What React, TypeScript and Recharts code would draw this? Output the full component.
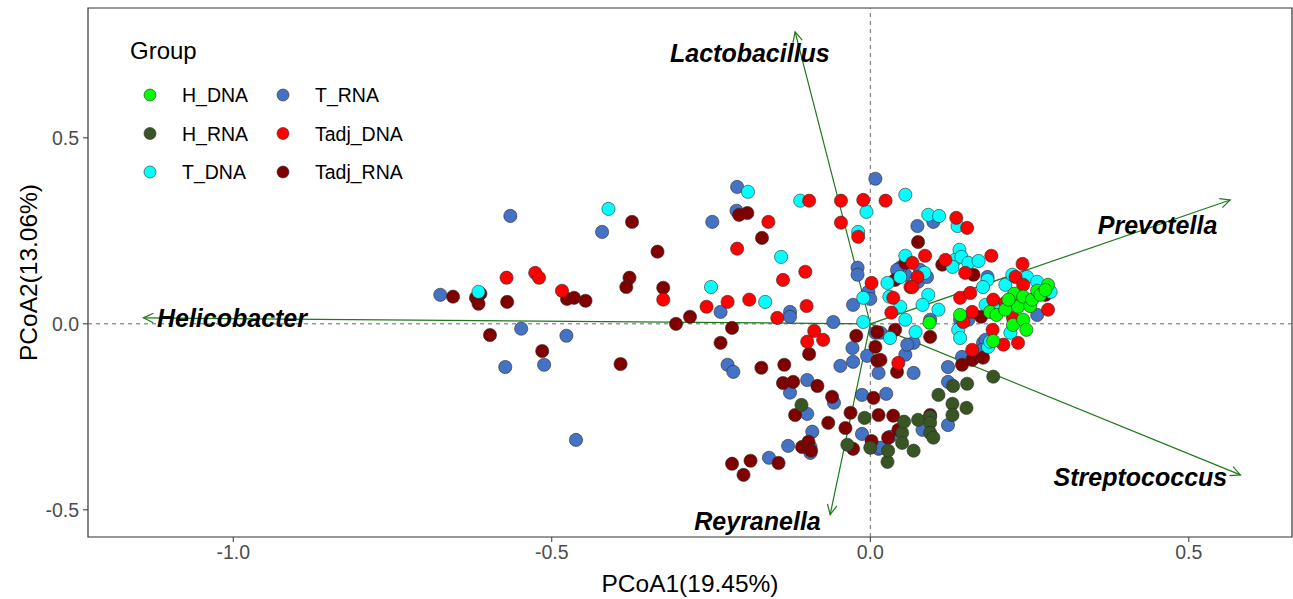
import React from "react";
import {
  ScatterChart,
  Scatter,
  XAxis,
  YAxis,
  ReferenceLine,
  ReferenceArea,
  ReferenceDot,
} from "recharts";

type Pt = [number, number];

// PCoA scores per group
const hDNA: Pt[] = [
  [0.093, 0.003], [0.141, 0.024], [0.188, 0.032], [0.198, 0.024], [0.212, 0.038],
  [0.226, 0.081], [0.232, 0.046], [0.24, 0.073], [0.251, 0.048], [0.254, 0.065],
  [0.262, 0.089], [0.279, 0.105], [0.224, -0.003], [0.24, 0.011], [0.245, -0.016],
  [0.193, -0.046], [0.267, 0.078], [0.275, 0.091], [0.217, 0.065],
];

const hRNA: Pt[] = [
  [-0.108, -0.218], [-0.036, -0.325], [-0.009, -0.253], [0.0, -0.333], [0.027, -0.371],
  [0.028, -0.341], [0.05, -0.293], [0.05, -0.32], [0.053, -0.263], [0.068, -0.341],
  [0.075, -0.258], [0.094, -0.25], [0.094, -0.266], [0.094, -0.293], [0.099, -0.306],
  [0.107, -0.191], [0.129, -0.215], [0.129, -0.245], [0.13, -0.167], [0.151, -0.226],
  [0.152, -0.161], [0.193, -0.142],
];

const tDNA: Pt[] = [
  [-0.411, 0.309], [-0.615, 0.086], [-0.25, 0.099], [-0.192, 0.355], [-0.165, 0.059],
  [-0.14, 0.18], [-0.11, 0.331], [-0.006, 0.301], [-0.019, 0.247], [-0.011, 0.07],
  [-0.011, 0.005], [0.027, 0.11], [0.03, 0.073], [0.047, 0.126], [0.055, 0.347],
  [0.055, 0.183], [0.085, 0.137], [0.091, 0.293], [0.108, 0.29], [0.137, 0.263],
  [0.14, 0.199], [0.133, 0.172], [0.129, 0.153], [0.143, 0.18], [0.154, 0.164],
  [0.17, 0.169], [0.184, 0.118], [0.177, 0.099], [0.212, 0.105], [0.223, 0.132],
  [0.246, 0.126], [0.262, 0.113], [0.283, 0.086], [0.091, 0.078], [0.107, 0.038],
  [0.082, 0.051], [0.047, 0.046], [0.055, 0.011], [0.071, -0.022], [0.031, -0.038],
  [0.138, -0.016], [0.141, -0.038], [0.185, -0.062], [0.181, 0.051], [0.196, 0.056],
  [0.22, -0.024], [0.188, -0.048],
];

const tRNA: Pt[] = [
  [-0.675, 0.078], [-0.565, 0.29], [-0.421, 0.247], [-0.548, -0.013], [-0.477, -0.032],
  [-0.573, -0.116], [-0.512, -0.11], [-0.462, -0.312], [-0.209, 0.368], [-0.21, 0.304],
  [-0.248, 0.274], [-0.235, 0.032], [-0.126, 0.032], [-0.126, 0.019], [-0.058, 0.005],
  [-0.027, 0.051], [-0.02, 0.151], [-0.02, 0.132], [-0.003, 0.086], [0.0, 0.067],
  [0.008, 0.39], [-0.224, -0.11], [-0.215, -0.129], [-0.099, -0.151], [-0.126, -0.185],
  [-0.057, -0.212], [-0.099, -0.242], [-0.091, -0.29], [-0.129, -0.328], [-0.159, -0.36],
  [-0.094, -0.331], [-0.094, -0.347], [-0.047, -0.113], [-0.027, -0.102], [-0.028, -0.065],
  [-0.005, -0.086], [0.008, -0.024], [0.016, -0.024], [0.013, -0.132], [-0.013, -0.191],
  [0.025, -0.188], [-0.013, -0.296], [0.013, -0.336], [0.031, -0.304], [0.082, -0.285],
  [0.122, -0.272], [0.122, -0.156], [0.016, -0.333], [0.055, -0.083], [0.068, -0.132],
  [0.068, -0.051], [0.122, -0.116], [0.144, -0.089], [0.177, -0.051], [0.058, -0.056],
  [0.055, 0.132], [0.047, 0.151], [0.075, 0.113], [0.074, 0.263], [0.099, 0.274],
  [0.042, 0.145], [0.078, 0.145], [0.089, 0.126], [0.184, 0.126], [0.094, 0.011],
  [0.141, 0.011], [0.262, 0.024], [0.181, -0.043], [0.176, -0.07], [0.154, 0.011],
];

const tadjDNA: Pt[] = [
  [-0.571, 0.124], [-0.526, 0.137], [-0.52, 0.124], [-0.484, 0.089], [-0.325, 0.065],
  [-0.257, 0.046], [-0.224, 0.059], [-0.19, 0.065], [-0.146, 0.016], [-0.1, 0.048],
  [-0.137, 0.118], [-0.102, 0.14], [-0.209, 0.202], [-0.16, 0.274], [-0.096, 0.331],
  [-0.046, 0.331], [-0.011, 0.333], [0.024, 0.331], [-0.046, 0.272], [-0.019, 0.234],
  [0.002, 0.11], [-0.088, -0.019], [-0.074, -0.043], [-0.099, -0.048], [0.036, 0.07],
  [0.033, 0.03], [0.063, 0.099], [0.086, 0.183], [0.066, 0.164], [0.118, 0.172],
  [0.135, 0.285], [0.152, 0.258], [0.19, 0.183], [0.239, 0.161], [0.074, 0.126],
  [0.228, 0.126], [0.24, 0.105], [0.141, 0.07], [0.157, 0.083], [0.193, 0.065],
  [0.212, 0.056], [0.16, 0.032], [0.146, 0.005], [0.224, 0.016], [0.279, 0.038],
  [0.149, 0.137], [0.16, -0.07], [0.209, -0.056], [0.232, -0.051], [0.192, -0.016],
  [0.044, -0.105], [0.066, 0.099],
];

const tadjRNA: Pt[] = [
  [-0.655, 0.073], [-0.619, 0.07], [-0.612, 0.081], [-0.615, 0.054], [-0.57, 0.059],
  [-0.476, 0.067], [-0.465, 0.07], [-0.447, 0.062], [-0.374, 0.274], [-0.334, 0.194],
  [-0.378, 0.124], [-0.383, 0.099], [-0.325, 0.097], [-0.305, 0.0], [-0.283, 0.019],
  [-0.597, -0.03], [-0.515, -0.073], [-0.392, -0.108], [-0.193, 0.298], [-0.206, 0.293],
  [-0.17, 0.231], [-0.217, -0.011], [-0.235, -0.051], [-0.171, -0.118], [-0.135, -0.11],
  [-0.137, -0.159], [-0.121, -0.156], [-0.083, -0.167], [-0.096, -0.081], [-0.022, -0.032],
  [0.008, -0.062], [0.011, -0.099], [-0.06, -0.196], [-0.031, -0.239], [-0.118, -0.245],
  [-0.066, -0.266], [-0.039, -0.28], [-0.107, -0.331], [-0.097, -0.317], [-0.093, -0.341],
  [-0.217, -0.376], [-0.188, -0.368], [-0.144, -0.374], [-0.199, -0.406], [0.005, -0.199],
  [0.013, -0.245], [-0.027, -0.336], [0.002, -0.315], [0.036, -0.247], [0.044, -0.285],
  [0.094, -0.245], [0.075, 0.22], [0.113, 0.159], [0.039, 0.118], [0.162, 0.132],
  [0.055, 0.164], [0.011, -0.022], [0.094, -0.035], [0.039, -0.016], [0.016, -0.097],
  [0.042, -0.129], [0.144, -0.11], [0.16, -0.097], [0.177, -0.091], [0.028, -0.306],
  [0.174, 0.019], [0.275, 0.078],
];

const groupNames = ["H_DNA", "H_RNA", "T_DNA", "T_RNA", "Tadj_DNA", "Tadj_RNA"];
const groupColors = ["#00FF00", "#375623", "#00FFFF", "#4472C4", "#FF0000", "#800000"];
const groupData = [hDNA, hRNA, tDNA, tRNA, tadjDNA, tadjRNA];
// drawing order (back to front)
const drawOrder = [3, 5, 1, 2, 4, 0];

// genus loading arrows
const genera = ["Helicobacter", "Lactobacillus", "Prevotella", "Streptococcus", "Reyranella"];
const arrowX = [-1.141, -0.118, 0.565, 0.581, -0.063];
const arrowY = [0.016, 0.785, 0.333, -0.406, -0.513];
const labelX = [-1.002, -0.189, 0.451, 0.424, -0.177];
const labelY = [0.016, 0.728, 0.266, -0.411, -0.53];

const xTicks = [-1.0, -0.5, 0.0, 0.5];
const yTicks = [-0.5, 0.0, 0.5];
const xDomain: [number, number] = [-1.228, 0.662];
const yDomain: [number, number] = [-0.573, 0.849];

const FONT = "'Liberation Sans', Arial, Helvetica, sans-serif";
const ARROW_COLOR = "#1c7a1c";

function Dot(props: any) {
  const { cx, cy, fill } = props;
  if (cx == null || cy == null) return null;
  return <circle cx={cx} cy={cy} r={6.6} fill={fill} stroke="#2b2b2b" strokeWidth={0.6} />;
}

function Arrow(props: any) {
  const { x1, y1, x2, y2 } = props;
  const ang = Math.atan2(y2 - y1, x2 - x1);
  const len = 11;
  const spread = Math.PI / 7;
  const ax = x2 - len * Math.cos(ang - spread);
  const ay = y2 - len * Math.sin(ang - spread);
  const bx = x2 - len * Math.cos(ang + spread);
  const by = y2 - len * Math.sin(ang + spread);
  return (
    <g>
      <line x1={x1} y1={y1} x2={x2} y2={y2} stroke={ARROW_COLOR} strokeWidth={1.2} />
      <polyline
        points={`${ax},${ay} ${x2},${y2} ${bx},${by}`}
        fill="none"
        stroke={ARROW_COLOR}
        strokeWidth={1.2}
      />
    </g>
  );
}

function GenusLabel(name: string) {
  return (props: any) => (
    <text
      x={props.cx}
      y={props.cy}
      textAnchor="middle"
      dominantBaseline="central"
      fontFamily={FONT}
      fontSize={25}
      fontWeight="bold"
      fontStyle="italic"
      fill="#000"
    >
      {name}
    </text>
  );
}

function LegendBox() {
  const rows = [0, 1, 2];
  return (
    <svg
      width={320}
      height={200}
      style={{ position: "absolute", left: 120, top: 25, overflow: "visible" }}
    >
      <text x={10} y={25} fontFamily={FONT} fontSize={24} fill="#000" dominantBaseline="central">
        Group
      </text>
      {groupNames.map((name, i) => {
        const col = Math.floor(i / 3);
        const row = rows[i % 3];
        const cx = 30 + col * 133;
        const cy = 70 + row * 38.5;
        return (
          <g key={name}>
            <circle cx={cx} cy={cy} r={6} fill={groupColors[i]} stroke="#2b2b2b" strokeWidth={0.6} />
            <text
              x={cx + 32}
              y={cy}
              fontFamily={FONT}
              fontSize={19.5}
              fill="#000"
              dominantBaseline="central"
            >
              {name}
            </text>
          </g>
        );
      })}
    </svg>
  );
}

export default function App() {
  return (
    <div style={{ position: "absolute", left: 0, top: 0, width: 1293, height: 599, background: "#fff" }}>
      <ScatterChart width={1293} height={599} margin={{ top: 8, right: 1, bottom: 0, left: 0 }}>
        <XAxis
          type="number"
          dataKey="x"
          domain={xDomain}
          ticks={xTicks}
          allowDataOverflow
          tickFormatter={(v: number) => v.toFixed(1)}
          height={62}
          axisLine={false}
          tickSize={5}
          tickMargin={3}
          tickLine={{ stroke: "#333" }}
          tick={{ fill: "#4d4d4d", fontSize: 19.5, fontFamily: FONT }}
          label={{
            value: "PCoA1(19.45%)",
            position: "insideBottom",
            offset: 7,
            fill: "#000",
            fontSize: 24.5,
            fontFamily: FONT,
          }}
        />
        <YAxis
          type="number"
          dataKey="y"
          domain={yDomain}
          ticks={yTicks}
          allowDataOverflow
          tickFormatter={(v: number) => v.toFixed(1)}
          width={88}
          axisLine={false}
          tickSize={5}
          tickMargin={4}
          tickLine={{ stroke: "#333" }}
          tick={{ fill: "#4d4d4d", fontSize: 19.5, fontFamily: FONT }}
          label={{
            value: "PCoA2(13.06%)",
            angle: -90,
            position: "insideLeft",
            offset: 28,
            style: { textAnchor: "middle" },
            fill: "#000",
            fontSize: 24.5,
            fontFamily: FONT,
          }}
        />
        <ReferenceLine x={0} stroke="#666" strokeDasharray="4 4" strokeWidth={1} />
        <ReferenceLine y={0} stroke="#666" strokeDasharray="4 4" strokeWidth={1} />
        {drawOrder.map((g) => (
          <Scatter
            key={groupNames[g]}
            name={groupNames[g]}
            data={groupData[g].map(([x, y]) => ({ x, y }))}
            fill={groupColors[g]}
            shape={<Dot />}
            isAnimationActive={false}
          />
        ))}
        {genera.map((name, i) => (
          <ReferenceLine
            key={name}
            segment={[
              { x: 0, y: 0 },
              { x: arrowX[i], y: arrowY[i] },
            ]}
            ifOverflow="visible"
            shape={<Arrow />}
          />
        ))}
        {genera.map((name, i) => (
          <ReferenceDot
            key={"lbl" + name}
            x={labelX[i]}
            y={labelY[i]}
            r={0}
            ifOverflow="visible"
            shape={GenusLabel(name)}
          />
        ))}
        <ReferenceArea
          x1={xDomain[0]}
          x2={xDomain[1]}
          y1={yDomain[0]}
          y2={yDomain[1]}
          fill="none"
          fillOpacity={0}
          stroke="#333"
          strokeWidth={1.2}
          ifOverflow="visible"
        />
      </ScatterChart>
      <LegendBox />
    </div>
  );
}
